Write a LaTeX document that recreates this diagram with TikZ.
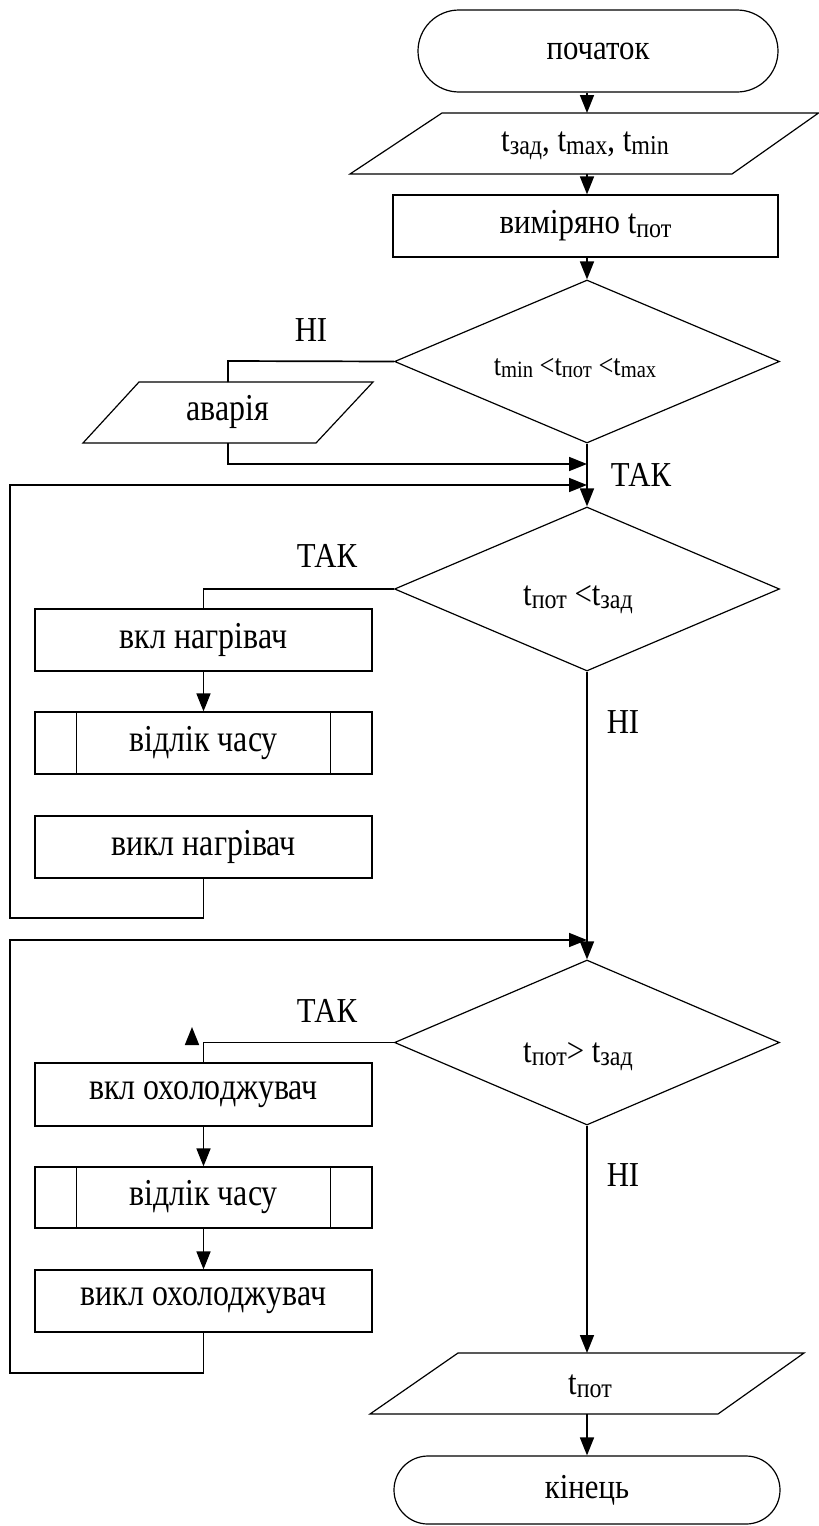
\documentclass[tikz,border=0pt]{standalone}
\usepackage{fontspec}
\setmainfont{Liberation Serif}[FakeStretch=0.88]
\newfontfamily\cnd{Liberation Serif}[FakeStretch=0.84]
\usetikzlibrary{shapes.geometric,shapes.misc,arrows.meta}
\newcommand\lo[1]{\raisebox{-0.09em}{\scalebox{0.78}{#1}}}
\begin{document}
\begin{tikzpicture}[x=1pt,y=-1pt,
 shp/.style={draw,line width=1.2pt},
 con/.style={line width=1.7pt},
 arr/.style={con,-{Triangle[length=18pt,width=14pt]}},
 txt/.style={font=\fontsize{35}{40}\selectfont, inner sep=0pt},
 ltxt/.style={font=\cnd\fontsize{38}{42}\selectfont, inner sep=0pt},
 box/.style={shp, rectangle, minimum width=337pt, minimum height=62pt, ltxt},
 dia/.style={shp, diamond, minimum width=385pt, inner sep=0pt},
 lbl/.style={txt}
]
\useasboundingbox (0,0) rectangle (819,1526);
\coordinate (ax) at (587,0);

% start
\node[shp, rounded rectangle, minimum width=360pt, minimum height=82pt, txt] (start) at (598,51) {початок};

% input
\draw[shp] (442,113) -- (818.5,113) -- (732,174) -- (350,174) -- cycle;
\node[txt] (in1) at (585,146) {t\lo{зад}, t\lo{max}, t\lo{min}};
\coordinate (in1n) at (587,113);
\coordinate (in1s) at (587,174);
\draw[arr] (start.south -| ax) -- (in1n);

% measured
\node[box, txt, minimum width=385pt] (meas) at (585.5,226) {виміряно t\lo{пот}};
\draw[arr] (in1s) -- (meas.north -| ax);

% diamond 1
\node[dia, minimum height=163pt] (d1) at (587,361.5) {};
\node[txt, font=\fontsize{30}{34}\selectfont] (d1t) at (575,368) {t\lo{min} <t\lo{пот} <t\lo{max}};
\draw[arr] (meas.south -| ax) -- (d1.north);

\node[lbl] (no1) at (311,330) {НІ};
\coordinate (a1) at (228,361);
\draw[shp] (139,382) -- (373,382) -- (316,443) -- (83,443) -- cycle;
\node[ltxt] (avar) at (228,412) {аварія};
\coordinate (avn) at (228,382);
\coordinate (avs) at (228,443);
\draw[con] (d1.west) -- (a1) -- (avn);
\coordinate (j1) at (587,464);
\draw[arr] (avs) |- (j1);
\node[lbl] (yes1) at (641,475) {ТАК};

% diamond 2
\node[dia, minimum height=164pt] (d2) at (587,589) {};
\node[txt] (d2t) at (578,600) {t\lo{пот} <t\lo{зад}};
\draw[arr] (d1.south) -- (d2.north);
\coordinate (j2) at (587,485);

\node[lbl] (yes2) at (327,556) {ТАК};
\node[box] (heat1) at (203.5,640) {вкл нагрівач};
\draw[con] (d2.west) -| (heat1.north);
\node[box] (tim1) at (203.5,743) {відлік часу};
\draw[shp] ([xshift=42pt]tim1.north west) -- ([xshift=42pt]tim1.south west);
\draw[shp] ([xshift=-42pt]tim1.north east) -- ([xshift=-42pt]tim1.south east);
\draw[arr] (heat1.south) -- (tim1.north);
\node[box] (vyk1) at (203.5,847) {викл нагрівач};
\coordinate (l1a) at (10,918);
\draw[arr] (vyk1.south) |- (l1a) |- (j2);
\node[lbl] (no2) at (623,722) {НІ};

% diamond 3
\node[dia, minimum height=165pt] (d3) at (587,1042.5) {};
\node[txt] (d3t) at (578,1057) {t\lo{пот}> t\lo{зад}};
\draw[arr] (d2.south) -- (d3.north);
\coordinate (j3) at (587,940);
\coordinate (l2a) at (10,1373);

\node[lbl] (yes3) at (327,1011) {ТАК};
\node[box, minimum height=63pt] (cool1) at (203.5,1094.5) {вкл охолоджувач};
\draw[con] (d3.west) -| (cool1.north);
\coordinate (s1) at (192,1044);
\coordinate (s2) at (192,1027);
\draw[arr] (s1) -- (s2);
\node[box, minimum height=61pt] (tim2) at (203.5,1197.5) {відлік часу};
\draw[shp] ([xshift=42pt]tim2.north west) -- ([xshift=42pt]tim2.south west);
\draw[shp] ([xshift=-42pt]tim2.north east) -- ([xshift=-42pt]tim2.south east);
\draw[arr] (cool1.south) -- (tim2.north);
\node[box] (vyk2) at (203.5,1301) {викл охолоджувач};
\draw[arr] (tim2.south) -- (vyk2.north);
\draw[arr] (vyk2.south) |- (l2a) |- (j3);
\node[lbl] (no3) at (623,1175) {НІ};

% output
\draw[shp] (458,1353) -- (804,1353) -- (718,1414) -- (370,1414) -- cycle;
\node[txt] (outt) at (590,1386) {t\lo{пот}};
\coordinate (outn) at (587,1353);
\coordinate (outs) at (587,1414);
\draw[arr] (d3.south) -- (outn);

% end
\node[shp, rounded rectangle, minimum width=386pt, minimum height=68pt, txt] (end) at (587,1490) {кінець};
\draw[arr] (outs) -- (end.north);
\end{tikzpicture}
\end{document}
